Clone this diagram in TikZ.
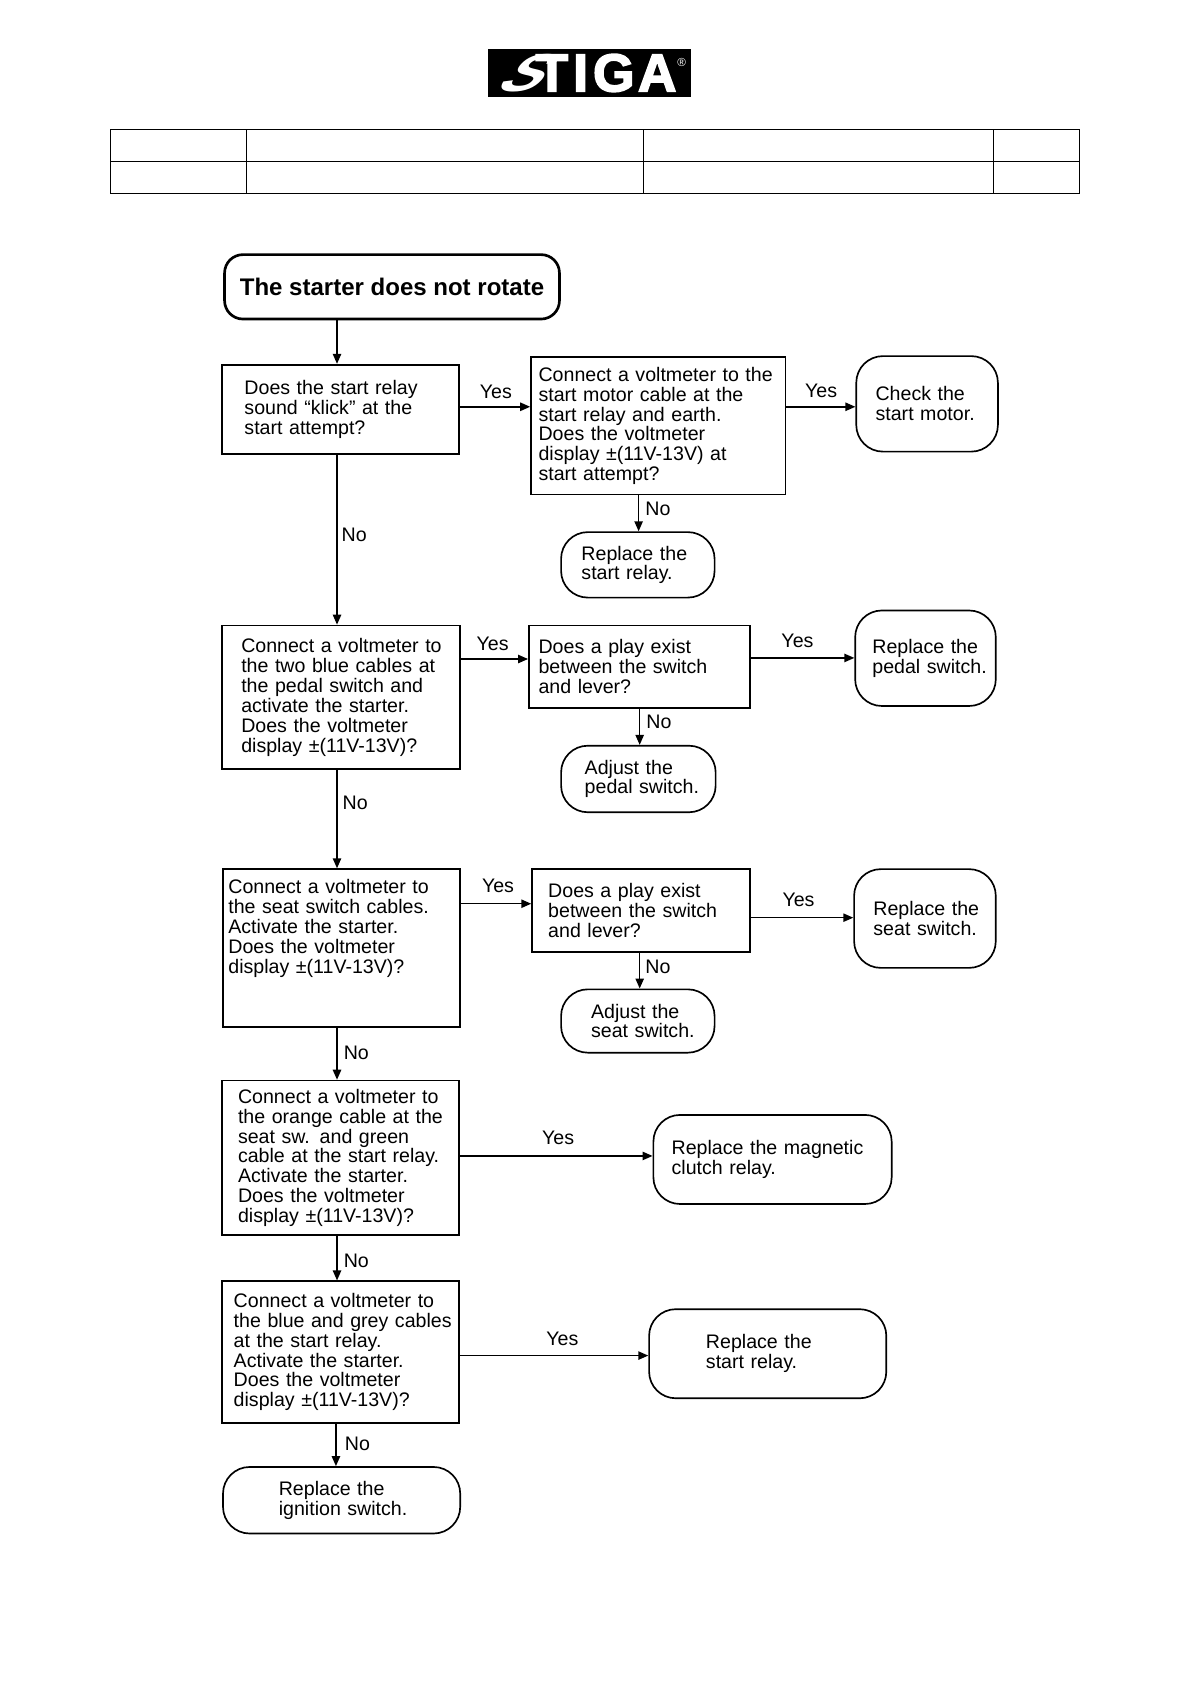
\documentclass[tikz,border=0pt]{standalone}
\usepackage{fontspec}
\usepackage{tikz}
\setmainfont{Liberation Sans}
\newfontfamily\logofont[FakeBold=3]{Liberation Sans Bold}
\newfontfamily\swooshfont[FakeSlant=0.9,FakeStretch=1.15]{Liberation Sans Bold}
\usetikzlibrary {arrows.meta}
\newdimen\pxu
\pxu=0.6435pt
\tikzset{
  textbox/.style n args={3}{anchor=north west,inner sep=0pt,minimum width=#1\pxu,minimum height=#2\pxu,text width=#1\pxu,align=left,
    font=\fontsize{11.75}{11.9}\selectfont,execute at begin node={\leftskip=#3\pxu\relax}},
  askbox/.style n args={3}{draw,line width=1pt,textbox={#1}{#2}{#3}},
  endbox/.style n args={3}{draw,line width=1pt,rounded corners=16pt,textbox={#1}{#2}{#3}},
  label/.style={inner sep=0pt,font=\fontsize{11.75}{12}\selectfont},
  flow/.style={line width=0.9pt,-{Triangle[length=6pt,width=5pt]}}
}
\begin{document}
\begin{tikzpicture}[x=\pxu,y=-\pxu]
\useasboundingbox (0,0) rectangle (1108.8,1569);

\node[fill=black,text=white,inner sep=0pt,minimum width=188.5\pxu,minimum height=44.7\pxu] (logo) at (549.2,68) {\fontsize{32}{32}\swooshfont S\logofont\kern1pt T\kern3pt I\kern3pt G\kern2pt A\kern0.5pt\raisebox{15pt}{\rmfamily\fontsize{7}{7}\selectfont\textregistered}};

\draw[line width=0.6pt] (102.5,120.5) rectangle (1005.5,180.5) (102.5,150.5) -- (1005.5,150.5)
  (229.5,120.5) -- (229.5,180.5) (599.5,120.5) -- (599.5,180.5) (926,120.5) -- (926,180.5);

\node[draw,line width=1.6pt,rounded corners=11pt,anchor=north west,inner sep=0pt,minimum width=312\pxu,minimum height=60\pxu,font=\fontsize{14.4}{14.4}\bfseries] (title) at (208,236) {The starter does not rotate};

\node[askbox={221}{83}{21}] (relaysound) at (206,339) {Does the start relay\\sound “klick” at the\\start attempt?};
\node[askbox={237}{128}{7}] (motorvolt) at (494,332) {Connect a voltmeter to the\\start motor cable at the\\start relay and earth.\\Does the voltmeter\\display ±(11V-13V) at\\start attempt?};
\node[endbox={132}{89}{18}] (checkmotor) at (797,331) {Check the\\start motor.};
\node[endbox={143}{61}{19}] (replacerelay) at (522,495) {Replace the\\start relay.};

\node[askbox={222}{134}{18}] (pedalvolt) at (206,582) {Connect a voltmeter to\\the two blue cables at\\the pedal switch and\\activate the starter.\\Does the voltmeter\\display ±(11V-13V)?};
\node[askbox={206}{77}{9}] (pedalplay) at (492,582) {Does a play exist\\between the switch\\and lever?};
\node[endbox={131}{89}{16}] (replacepedal) at (796,568) {Replace the\\pedal switch.};
\node[endbox={144}{62}{22}] (adjustpedal) at (522,694) {Adjust the\\pedal switch.};

\node[askbox={221}{147}{5}] (seatvolt) at (207,809) {Connect a voltmeter to\\the seat switch cables.\\Activate the starter.\\Does the voltmeter\\display ±(11V-13V)?\\~\\[2pt]~};
\node[askbox={203}{77}{15}] (seatplay) at (495,809) {Does a play exist\\between the switch\\and lever?};
\node[endbox={132}{92}{18}] (replaceseat) at (795,809) {Replace the\\seat switch.};
\node[endbox={143}{59}{28}] (adjustseat) at (522,921) {Adjust the\\seat switch.};

\node[askbox={221}{144}{15}] (clutchvolt) at (206,1006) {Connect a voltmeter to\\the orange cable at the\\seat sw. and green\\cable at the start relay.\\Activate the starter.\\Does the voltmeter\\display ±(11V-13V)?};
\node[endbox={222}{83}{17}] (replaceclutch) at (608,1038) {Replace the magnetic\\clutch relay.};

\node[askbox={221}{132}{11}] (ignitionvolt) at (206,1193) {Connect a voltmeter to\\the blue and grey cables\\at the start relay.\\Activate the starter.\\Does the voltmeter\\display ±(11V-13V)?};
\node[endbox={221}{83}{53}] (replacestart) at (604,1219) {Replace the\\start relay.};
\node[endbox={221}{62}{52}] (replaceignition) at (207,1366) {Replace the\\ignition switch.};

\draw[flow] (title.south -| 314,0) -- (relaysound.north -| 314,0);
\draw[flow] (relaysound.east |- 0,379) -- (motorvolt.west |- 0,379);
\draw[flow] (motorvolt.east |- 0,379) -- (checkmotor.west |- 0,379);
\draw[flow] (motorvolt.south -| 595,0) -- (replacerelay.north -| 595,0);
\draw[flow] (relaysound.south -| 314,0) -- (pedalvolt.north -| 314,0);
\draw[flow] (pedalvolt.east |- 0,614) -- (pedalplay.west |- 0,614);
\draw[flow] (pedalplay.east |- 0,613) -- (replacepedal.west |- 0,613);
\draw[flow] (pedalplay.south -| 596,0) -- (adjustpedal.north -| 596,0);
\draw[flow] (pedalvolt.south -| 314,0) -- (seatvolt.north -| 314,0);
\draw[flow] (seatvolt.east |- 0,842) -- (seatplay.west |- 0,842);
\draw[flow] (seatplay.east |- 0,855) -- (replaceseat.west |- 0,855);
\draw[flow] (seatplay.south -| 596,0) -- (adjustseat.north -| 596,0);
\draw[flow] (seatvolt.south -| 314,0) -- (clutchvolt.north -| 314,0);
\draw[flow] (clutchvolt.east |- 0,1077) -- (replaceclutch.west |- 0,1077);
\draw[flow] (clutchvolt.south -| 314,0) -- (ignitionvolt.north -| 314,0);
\draw[flow] (ignitionvolt.east |- 0,1263) -- (replacestart.west |- 0,1263);
\draw[flow] (ignitionvolt.south -| 313,0) -- (replaceignition.north -| 313,0);

\node[label] (yessound) at (462,365) {Yes};
\node[label] (nosound) at (330,498) {No};
\node[label] (yesmotor) at (765,364) {Yes};
\node[label] (nomotor) at (613,474) {No};
\node[label] (yespedal) at (459,600) {Yes};
\node[label] (nopedal) at (331,748) {No};
\node[label] (yesplay) at (743,597) {Yes};
\node[label] (noplay) at (614,673) {No};
\node[label] (yesseat) at (464,825) {Yes};
\node[label] (noseat) at (332,981) {No};
\node[label] (yesswitch) at (744,838) {Yes};
\node[label] (noswitch) at (613,901) {No};
\node[label] (yesclutch) at (520,1060) {Yes};
\node[label] (noclutch) at (332,1175) {No};
\node[label] (yesstart) at (524,1247) {Yes};
\node[label] (noignition) at (333,1345) {No};
\end{tikzpicture}
\end{document}
